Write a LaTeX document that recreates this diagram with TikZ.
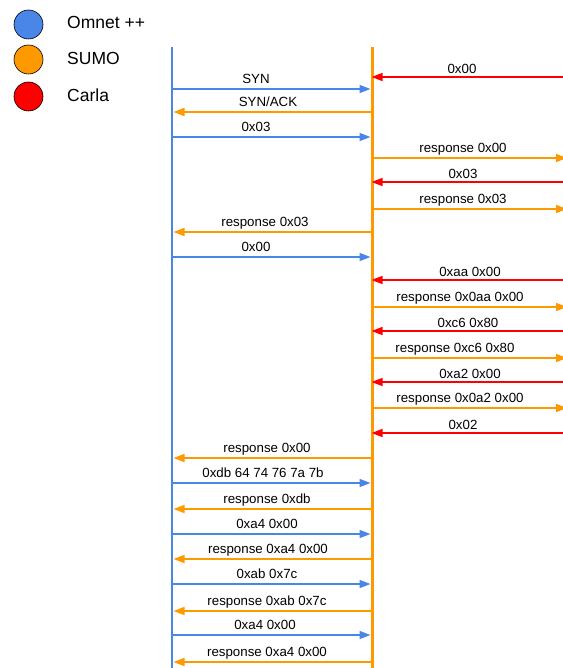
\documentclass[tikz,border=0pt]{standalone}
\usepackage{fontspec}
\setmainfont{Liberation Sans}
\usepackage{xcolor}
\usepackage{tikz}
\usetikzlibrary{arrows.meta}
\definecolor{omnetblue}{HTML}{4A86E8}
\definecolor{sumoorange}{HTML}{FF9900}
\definecolor{carlared}{HTML}{FF0000}

\begin{document}
\begin{tikzpicture}[x=1pt,y=-1pt,
		msg/.style={line width=1.5pt,shorten >=1.5pt,-{Triangle[length=11pt,width=8pt]}},
		lbl/.style={anchor=base,inner sep=0pt,font=\fontsize{13.3}{15}\selectfont},
		legdot/.style={circle,draw=black,line width=0.6pt,minimum size=29pt,inner sep=0pt},
		legtxt/.style={anchor=base west,inner sep=0pt,font=\fontsize{17.5}{20}\selectfont}]
			\useasboundingbox (0,0) rectangle (562,668);
			% 图例
			\node[legdot,fill=omnetblue] (omnetdot) at (28.5,24.5) {};
			\node[legdot,fill=sumoorange] (sumodot) at (28.5,59.5) {};
			\node[legdot,fill=carlared] (carladot) at (28.5,96.5) {};
			\node[legtxt] (omnettxt) at (67,28.5) {Omnet ++};
			\node[legtxt] (sumotxt) at (67,65) {SUMO};
			\node[legtxt] (carlatxt) at (67,101.5) {Carla};
			% 生命线
			\coordinate (om) at (172,47);
			\coordinate (omend) at (172,668);
			\coordinate (su) at (372,47);
			\coordinate (suend) at (372,668);
			\coordinate (ca) at (567,47);
			\draw[omnetblue, line width=2.5pt] (om) -- (omend);
			\draw[sumoorange, line width=3pt] (su) -- (suend);
			% Omnet -> SUMO
			\foreach \y/\lx/\txt in {89/256/SYN, 137/256/0x03, 257/256/0x00,
					483/263/{0xdb 64 74 76 7a 7b}, 534/267/{0xa4 0x00},
					584/267/{0xab 0x7c}, 635/265/{0xa4 0x00}} {
				\draw[msg, omnetblue] (om |- 0,\y) -- (su |- 0,\y);
				\node[lbl] (om\y) at (\lx,\y-5.5) {\txt};
			}
			% SUMO -> Omnet
			\foreach \y/\lx/\txt in {112/268/{SYN/ACK}, 232/265/{response 0x03},
					458/267/{response 0x00}, 509/267/{response 0xdb},
					559/268/{response 0xa4 0x00}, 611/267/{response 0xab 0x7c},
					662/267/{response 0xa4 0x00}} {
				\draw[msg, sumoorange] (su |- 0,\y) -- (om |- 0,\y);
				\node[lbl] (so\y) at (\lx,\y-5.5) {\txt};
			}
			% SUMO -> Carla
			\foreach \y/\lx/\txt in {158/463/{response 0x00}, 209/463/{response 0x03},
					307/460/{response 0x0aa 0x00}, 358/455/{response 0xc6 0x80},
					408/460/{response 0x0a2 0x00}} {
				\draw[msg, sumoorange, shorten >=0pt] (su |- 0,\y) -- (ca |- 0,\y);
				\node[lbl] (sc\y) at (\lx,\y-5.5) {\txt};
			}
			% Carla -> SUMO
			\foreach \y/\lx/\txt in {77/462/0x00, 182/463/0x03, 280/470/{0xaa 0x00},
					331/468/{0xc6 0x80}, 382/470/{0xa2 0x00}, 433/463/0x02} {
				\draw[msg, carlared, shorten >=-0.5pt] (ca |- 0,\y) -- (su |- 0,\y);
				\node[lbl] (ca\y) at (\lx,\y-3.5) {\txt};
			}
		\end{tikzpicture}
\end{document}
